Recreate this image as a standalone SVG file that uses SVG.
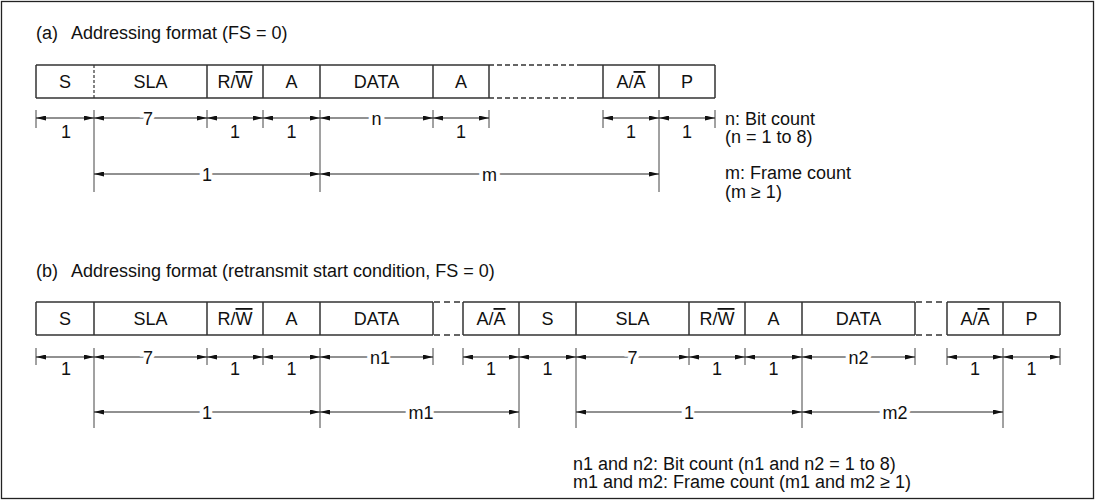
<svg xmlns="http://www.w3.org/2000/svg" width="1099" height="501" viewBox="0 0 1099 501">
<defs>
<style>
text{font-family:"Liberation Sans",Arial,sans-serif;font-size:18px;fill:#111}
.c{text-anchor:middle}
.ob{text-decoration:overline}
.box{fill:none;stroke:#333;stroke-width:1.5}
.dash{fill:none;stroke:#333;stroke-width:1.5;stroke-dasharray:5 3}
.dash2{fill:none;stroke:#333;stroke-width:1.5;stroke-dasharray:6 4}
.vd{fill:none;stroke:#333;stroke-width:1.2;stroke-dasharray:3 2}
.dim{stroke:#222;stroke-width:1;marker-start:url(#ah);marker-end:url(#ah)}
.tk{stroke:#444;stroke-width:1}
.halo{stroke:#fff;stroke-width:8;paint-order:stroke}
</style>
<marker id="ah" viewBox="0 0 10 5" refX="10" refY="2.5" markerWidth="10" markerHeight="5" markerUnits="userSpaceOnUse" orient="auto-start-reverse">
<path d="M0,0 L10,2.5 L0,5 z" fill="#111"/>
</marker>
</defs>
<rect x="1.5" y="1.5" width="1092" height="497" fill="#fff" stroke="#222" stroke-width="1.3"/>

<text x="36" y="38.5">(a)<tspan x="71">Addressing format (FS = 0)</tspan></text>
<text x="36" y="276.5">(b)<tspan x="71">Addressing format (retransmit start condition, FS = 0)</tspan></text>

<!-- Row (a) frame -->
<g id="frame-a">
<path class="box" d="M36,65 H489 M582,65 H715 M36,98 H489 M582,98 H715 M36,65 V98 M207,65 V98 M263,65 V98 M320,65 V98 M433,65 V98 M489,65 V98 M603,65 V98 M659,65 V98 M715,65 V98"/>
<path class="dash" d="M489,65 H582 M489,98 H582"/>
<path class="vd" d="M94,65 V98"/>
</g>
<g id="a-S"><text class="c" x="65" y="88">S</text></g>
<g id="a-SLA"><text class="c" x="150.5" y="88">SLA</text></g>
<g id="a-RW"><text class="c" x="235" y="88">R/<tspan class="ob">W</tspan></text></g>
<g id="a-A1"><text class="c" x="291.5" y="88">A</text></g>
<g id="a-DATA"><text class="c" x="376.5" y="88">DATA</text></g>
<g id="a-A2"><text class="c" x="461" y="88">A</text></g>
<g id="a-AA"><text class="c" x="631" y="88">A/<tspan class="ob">A</tspan></text></g>
<g id="a-P"><text class="c" x="687" y="88">P</text></g>

<!-- Row (b) frame -->
<g id="frame-b">
<path class="box" d="M36,302 H433 M463,302 H915 M947,302 H1060 M36,335 H433 M463,335 H915 M947,335 H1060 M36,302 V335 M94,302 V335 M207,302 V335 M263,302 V335 M320,302 V335 M433,302 V335 M463,302 V335 M519,302 V335 M576,302 V335 M689,302 V335 M745,302 V335 M802,302 V335 M915,302 V335 M947,302 V335 M1003,302 V335 M1060,302 V335"/>
<path class="dash2" d="M434,302 H461 M434,335 H461 M916,302 H945 M916,335 H945"/>
</g>
<g id="b-S1"><text class="c" x="65" y="325">S</text></g>
<g id="b-SLA1"><text class="c" x="150.5" y="325">SLA</text></g>
<g id="b-RW1"><text class="c" x="235" y="325">R/<tspan class="ob">W</tspan></text></g>
<g id="b-A1"><text class="c" x="291.5" y="325">A</text></g>
<g id="b-DATA1"><text class="c" x="376.5" y="325">DATA</text></g>
<g id="b-AA1"><text class="c" x="491" y="325">A/<tspan class="ob">A</tspan></text></g>
<g id="b-S2"><text class="c" x="547.5" y="325">S</text></g>
<g id="b-SLA2"><text class="c" x="632.5" y="325">SLA</text></g>
<g id="b-RW2"><text class="c" x="717" y="325">R/<tspan class="ob">W</tspan></text></g>
<g id="b-A2"><text class="c" x="773.5" y="325">A</text></g>
<g id="b-DATA2"><text class="c" x="858.5" y="325">DATA</text></g>
<g id="b-AA2"><text class="c" x="975" y="325">A/<tspan class="ob">A</tspan></text></g>
<g id="b-P"><text class="c" x="1031.5" y="325">P</text></g>

<!-- Connectors: dimension lines -->
<g id="connectors">
<!-- (a) ticks -->
<path class="tk" d="M36,110 V128 M207,110 V128 M263,110 V128 M433,110 V128 M489,110 V128 M603,110 V128 M715,110 V128 M94,110 V192 M320,110 V192 M659,110 V192"/>
<line class="dim" x1="36" y1="118" x2="94" y2="118"/>
<line class="dim" x1="94" y1="118" x2="207" y2="118"/>
<line class="dim" x1="207" y1="118" x2="263" y2="118"/>
<line class="dim" x1="263" y1="118" x2="320" y2="118"/>
<line class="dim" x1="320" y1="118" x2="433" y2="118"/>
<line class="dim" x1="433" y1="118" x2="489" y2="118"/>
<line class="dim" x1="603" y1="118" x2="659" y2="118"/>
<line class="dim" x1="659" y1="118" x2="715" y2="118"/>
<line class="dim" x1="94" y1="174" x2="320" y2="174"/>
<line class="dim" x1="320" y1="174" x2="659" y2="174"/>
<!-- (b) ticks -->
<path class="tk" d="M36,348 V365 M207,348 V365 M263,348 V365 M433,348 V365 M463,348 V365 M689,348 V365 M745,348 V365 M915,348 V365 M947,348 V365 M1060,348 V365 M94,348 V428 M320,348 V428 M519,348 V428 M576,348 V428 M802,348 V428 M1003,348 V428"/>
<line class="dim" x1="36" y1="357" x2="94" y2="357"/>
<line class="dim" x1="94" y1="357" x2="207" y2="357"/>
<line class="dim" x1="207" y1="357" x2="263" y2="357"/>
<line class="dim" x1="263" y1="357" x2="320" y2="357"/>
<line class="dim" x1="320" y1="357" x2="433" y2="357"/>
<line class="dim" x1="463" y1="357" x2="519" y2="357"/>
<line class="dim" x1="519" y1="357" x2="576" y2="357"/>
<line class="dim" x1="576" y1="357" x2="689" y2="357"/>
<line class="dim" x1="689" y1="357" x2="745" y2="357"/>
<line class="dim" x1="745" y1="357" x2="802" y2="357"/>
<line class="dim" x1="802" y1="357" x2="915" y2="357"/>
<line class="dim" x1="947" y1="357" x2="1003" y2="357"/>
<line class="dim" x1="1003" y1="357" x2="1060" y2="357"/>
<line class="dim" x1="94" y1="412" x2="320" y2="412"/>
<line class="dim" x1="320" y1="412" x2="519" y2="412"/>
<line class="dim" x1="576" y1="412" x2="802" y2="412"/>
<line class="dim" x1="802" y1="412" x2="1003" y2="412"/>
</g>

<!-- dimension labels (a) -->
<g id="labels-a">
<text class="c" x="66" y="137.5">1</text>
<text class="c halo" x="148" y="124.5">7</text>
<text class="c" x="235" y="137.5">1</text>
<text class="c" x="291.5" y="137.5">1</text>
<text class="c halo" x="376.5" y="124.5">n</text>
<text class="c" x="461" y="137.5">1</text>
<text class="c" x="631" y="137.5">1</text>
<text class="c" x="687" y="137.5">1</text>
<text class="c halo" x="207" y="180.5">1</text>
<text class="c halo" x="489.5" y="180.5">m</text>
</g>
<g id="labels-b">
<text class="c" x="66" y="374.5">1</text>
<text class="c halo" x="148" y="363.5">7</text>
<text class="c" x="235" y="374.5">1</text>
<text class="c" x="291.5" y="374.5">1</text>
<text class="c halo" x="380" y="363.5">n1</text>
<text class="c" x="491" y="374.5">1</text>
<text class="c" x="547.5" y="374.5">1</text>
<text class="c halo" x="632.5" y="363.5">7</text>
<text class="c" x="717" y="374.5">1</text>
<text class="c" x="773.5" y="374.5">1</text>
<text class="c halo" x="858.5" y="363.5">n2</text>
<text class="c" x="975" y="374.5">1</text>
<text class="c" x="1031.5" y="374.5">1</text>
<text class="c halo" x="207" y="418.5">1</text>
<text class="c halo" x="421" y="418.5">m1</text>
<text class="c halo" x="689" y="418.5">1</text>
<text class="c halo" x="895" y="418.5">m2</text>
</g>

<g id="notes">
<text x="725" y="124.5">n: Bit count</text>
<text x="725" y="143">(n = 1 to 8)</text>
<text x="725" y="179">m: Frame count</text>
<text x="725" y="197.5">(m ≥ 1)</text>
<text x="573" y="470">n1 and n2: Bit count (n1 and n2 = 1 to 8)</text>
<text x="573" y="488">m1 and m2: Frame count (m1 and m2 ≥ 1)</text>
</g>
</svg>
